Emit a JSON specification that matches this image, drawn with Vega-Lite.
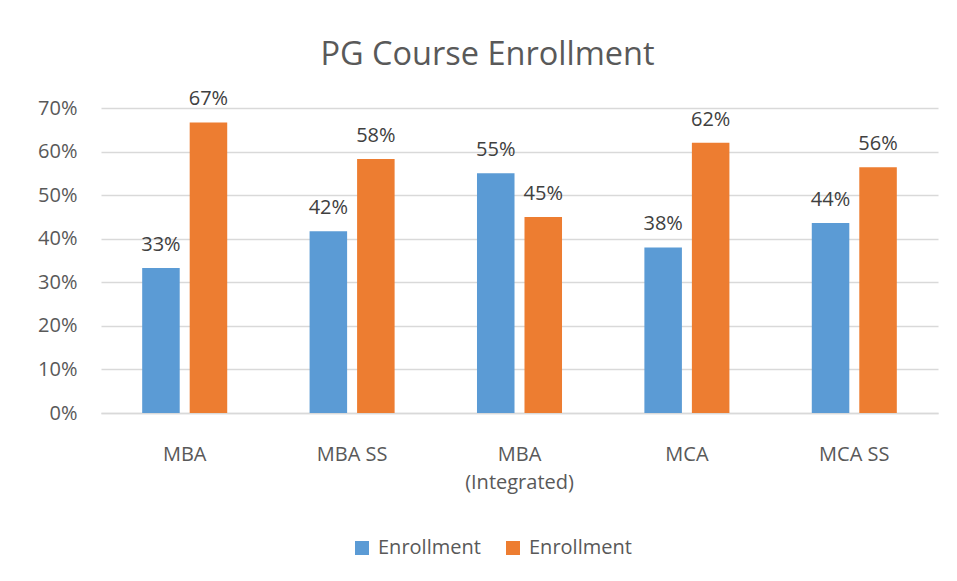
{
  "$schema": "https://vega.github.io/schema/vega-lite/v6.json",
  "width": 837,
  "height": 305,
  "autosize": {"type": "none"},
  "padding": {"left": 101, "top": 108, "right": 19, "bottom": 168},
  "background": "white",
  "title": {
    "text": "PG Course Enrollment",
    "fontSize": 32.5,
    "font": "Open Sans",
    "fontWeight": "normal",
    "color": "#595959",
    "baseline": "alphabetic",
    "offset": -8,
    "dx": -32
  },
  "data": {
    "values": [
      {"course": "MBA", "series": "A", "value": 0.333},
      {"course": "MBA", "series": "B", "value": 0.667},
      {"course": "MBA SS", "series": "A", "value": 0.417},
      {"course": "MBA SS", "series": "B", "value": 0.583},
      {"course": "MBA (Integrated)", "series": "A", "value": 0.55},
      {"course": "MBA (Integrated)", "series": "B", "value": 0.45},
      {"course": "MCA", "series": "A", "value": 0.38},
      {"course": "MCA", "series": "B", "value": 0.62},
      {"course": "MCA SS", "series": "A", "value": 0.436},
      {"course": "MCA SS", "series": "B", "value": 0.564}
    ]
  },
  "encoding": {
    "x": {
      "field": "course",
      "type": "nominal",
      "sort": null,
      "scale": {"paddingInner": 0, "paddingOuter": 0},
      "axis": {
        "title": null,
        "labelAngle": 0,
        "labelFont": "Open Sans",
        "labelFontSize": 20,
        "labelColor": "#595959",
        "labelPadding": 31,
        "labelLineHeight": 28,
        "labelExpr": "datum.label == 'MBA (Integrated)' ? ['MBA', '(Integrated)'] : datum.label",
        "ticks": false,
        "domainColor": "#D9D9D9",
        "domainWidth": 1.5
      }
    },
    "xOffset": {
      "field": "series",
      "type": "nominal",
      "scale": {"paddingInner": 0.21, "paddingOuter": 0.867}
    },
    "y": {
      "field": "value",
      "type": "quantitative",
      "scale": {"domain": [0, 0.7]},
      "axis": {
        "title": null,
        "values": [0, 0.1, 0.2, 0.3, 0.4, 0.5, 0.6, 0.7],
        "format": ".0%",
        "labelFont": "Open Sans",
        "labelFontSize": 20,
        "labelColor": "#595959",
        "labelPadding": 24,
        "ticks": false,
        "domain": false,
        "gridColor": "#D9D9D9",
        "gridWidth": 1.5
      }
    }
  },
  "layer": [
    {
      "mark": {"type": "bar"},
      "encoding": {
        "color": {
          "field": "series",
          "type": "nominal",
          "scale": {"domain": ["A", "B"], "range": ["#5B9BD5", "#ED7D31"]},
          "legend": {
            "title": null,
            "orient": "none",
            "legendX": 251,
            "legendY": 430,
            "direction": "horizontal",
            "symbolType": "square",
            "symbolSize": 196,
            "symbolStrokeWidth": 0,
            "symbolOpacity": 1,
            "labelFont": "Open Sans",
            "labelFontSize": 20,
            "labelColor": "#595959",
            "labelOffset": 6,
            "columnPadding": 22,
            "labelExpr": "'Enrollment'"
          }
        }
      }
    },
    {
      "mark": {
        "type": "text",
        "dy": -17,
        "baseline": "alphabetic",
        "font": "Open Sans",
        "fontSize": 20,
        "color": "#404040"
      },
      "encoding": {
        "text": {"field": "value", "type": "quantitative", "format": ".0%"}
      }
    }
  ],
  "config": {"view": {"stroke": null}}
}
